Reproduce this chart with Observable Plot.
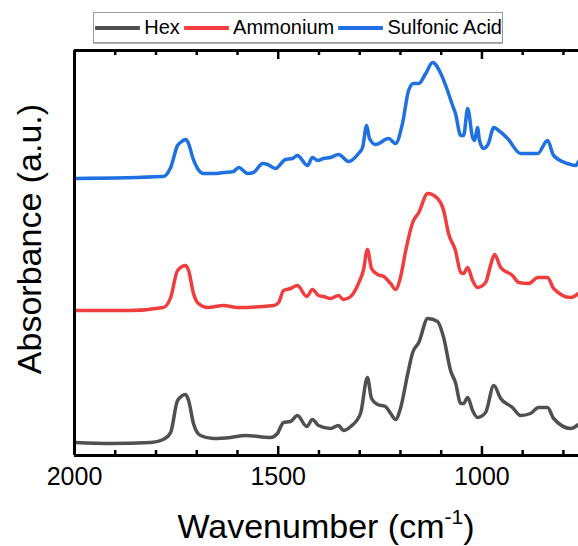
<!DOCTYPE html>
<html>
<head>
<meta charset="utf-8">
<script src="https://cdn.jsdelivr.net/npm/d3@7"></script>
<script src="https://cdn.jsdelivr.net/npm/@observablehq/plot@0.6"></script>
<style>
  html, body { margin: 0; padding: 0; background: #fff; }
  body { font-family: "Liberation Sans", Arial, sans-serif; }
  #wrap { width: 578px; height: 546px; position: relative; overflow: hidden; }
  #legendArea { position: relative; height: 46px; }
  #legend { position: absolute; left: 93px; top: 12px; width: 410px; height: 31px; box-sizing: border-box;
            border: 1px solid #9a9a9a; box-shadow: 0 1px 0 #b0b0b0; display: flex; align-items: center;
            gap: 4px; padding-left: 1px; font-size: 20px; color: #000; white-space: nowrap; }
  #legend .sw { display: inline-block; width: 46px; height: 4px; border-radius: 1px; }
</style>
</head>
<body>
<div id="wrap">
  <div id="legendArea"><div id="legend"></div></div>
  <div id="chart"></div>
</div>
<script>
// ---- Data ----
const seriesNames = ["Hex", "Ammonium", "Sulfonic Acid"];
const seriesColors = ["#505050", "#f03e3e", "#1f70e0"];

const hexWn  = [1998,1912,1813,1782,1764,1747,1727,1720,1708,1691,1659,1617,1580,1519,1502,1487,1470,1453,1430,1416,1401,1372,1352,1340,1322,1298,1281,1271,1256,1237,1224,1212,1200,1182,1170,1155,1133,1109,1094,1077,1065,1052,1045,1035,1023,1011,991,971,954,925,905,881,861,839,824,782,763];
const hexAbs = [0.13,0.12,0.13,0.16,0.23,0.55,0.61,0.55,0.32,0.20,0.17,0.18,0.20,0.18,0.22,0.33,0.34,0.40,0.29,0.36,0.30,0.27,0.30,0.25,0.29,0.42,0.78,0.57,0.51,0.49,0.42,0.36,0.47,0.82,1.03,1.13,1.37,1.34,1.18,0.85,0.73,0.52,0.52,0.58,0.45,0.38,0.43,0.70,0.57,0.48,0.40,0.42,0.48,0.48,0.37,0.27,0.31];

const ammWn  = [1998,1867,1782,1764,1747,1727,1720,1708,1696,1673,1634,1600,1511,1499,1487,1470,1453,1430,1416,1401,1389,1372,1352,1340,1322,1303,1291,1281,1271,1256,1241,1224,1212,1200,1187,1170,1155,1133,1109,1094,1082,1065,1052,1045,1035,1023,1011,991,979,969,954,925,910,885,863,839,824,782,763];
const ammAbs = [1.45,1.45,1.48,1.58,1.85,1.90,1.85,1.62,1.52,1.48,1.50,1.48,1.50,1.53,1.65,1.67,1.70,1.59,1.66,1.60,1.59,1.57,1.60,1.56,1.59,1.72,1.85,2.06,1.87,1.81,1.79,1.72,1.66,1.78,2.05,2.33,2.43,2.62,2.57,2.45,2.22,2.05,1.83,1.82,1.88,1.75,1.68,1.73,1.90,2.01,1.88,1.80,1.73,1.72,1.78,1.78,1.67,1.58,1.62];

const sulWn  = [1998,1782,1764,1747,1740,1727,1720,1710,1698,1683,1659,1634,1610,1597,1575,1561,1538,1526,1507,1482,1465,1453,1428,1416,1403,1389,1372,1352,1327,1303,1293,1283,1276,1261,1229,1212,1195,1180,1168,1155,1138,1121,1101,1089,1072,1065,1052,1045,1035,1023,1018,1011,1006,996,984,971,959,937,905,881,863,839,824,790,770,763];
const sulAbs = [2.77,2.79,2.88,3.10,3.13,3.16,3.12,2.98,2.87,2.82,2.82,2.83,2.84,2.88,2.82,2.83,2.92,2.91,2.87,2.96,2.97,3.00,2.90,2.98,2.95,2.97,2.98,3.01,2.94,3.02,3.08,3.30,3.17,3.11,3.17,3.12,3.32,3.65,3.72,3.72,3.82,3.93,3.82,3.70,3.50,3.42,3.20,3.20,3.47,3.18,3.15,3.28,3.15,3.07,3.12,3.28,3.25,3.17,3.02,3.02,3.02,3.15,3.00,2.92,2.90,2.94];

const xDomain = [2000, 763];
const yDomain = [0, 4.05];
const majorTicks = [2000, 1500, 1000];
const minorTicks = [1900, 1800, 1700, 1600, 1400, 1300, 1200, 1100, 900, 800];

// ---- Build table ----
const wnLists = [hexWn, ammWn, sulWn];
const absLists = [hexAbs, ammAbs, sulAbs];
const rows = [];
seriesNames.forEach((name, i) => {
  wnLists[i].forEach((w, j) => rows.push({series: name, wn: w, abs: absLists[i][j]}));
});

// ---- Legend ----
const legend = document.getElementById("legend");
seriesNames.forEach((name, i) => {
  const sw = document.createElement("span");
  sw.className = "sw";
  sw.style.background = seriesColors[i];
  const t = document.createElement("span");
  t.textContent = name;
  legend.appendChild(sw);
  legend.appendChild(t);
});

// ---- Plot ----
const W = 578, H = 500, mT = 4, mB = 91, mL = 74, mR = 0;
const innerH = H - mT - mB;

const chart = Plot.plot({
  width: W,
  height: H,
  marginTop: mT,
  marginBottom: mB,
  marginLeft: mL,
  marginRight: mR,
  style: {fontFamily: '"Liberation Sans", Arial, sans-serif', background: "#fff", overflow: "visible"},
  x: {domain: xDomain, axis: null},
  y: {domain: yDomain, axis: null},
  color: {domain: seriesNames, range: seriesColors},
  marks: [
    Plot.line(rows, {x: "wn", y: "abs", z: "series", stroke: "series", strokeWidth: 3.5, curve: "monotone-x", strokeLinejoin: "round"}),
    // axis lines
    Plot.ruleX([xDomain[0]], {stroke: "#000", strokeWidth: 3}),
    Plot.ruleY([yDomain[0]], {stroke: "#000", strokeWidth: 3}),
    Plot.ruleY([yDomain[1]], {stroke: "#000", strokeWidth: 3}),
    // inward ticks bottom
    Plot.tickX(majorTicks, {x: d => d, insetTop: innerH - 9, stroke: "#000", strokeWidth: 2.5}),
    Plot.tickX(minorTicks, {x: d => d, insetTop: innerH - 5, stroke: "#000", strokeWidth: 2.5}),
    // inward ticks top
    Plot.tickX(majorTicks, {x: d => d, insetBottom: innerH - 9, stroke: "#000", strokeWidth: 2.5}),
    Plot.tickX(minorTicks, {x: d => d, insetBottom: innerH - 5, stroke: "#000", strokeWidth: 2.5}),
    Plot.axisX({ticks: majorTicks, tickSize: 0, tickPadding: 12, tickFormat: d => String(d), fontSize: 25, label: null, color: "#000"})
  ]
});

document.getElementById("chart").appendChild(chart);

// ---- Axis titles ----
const svg = d3.select(chart);
svg.append("text")
  .attr("transform", `translate(41, ${239 - 46}) rotate(-90)`)
  .attr("text-anchor", "middle")
  .attr("font-size", 34)
  .attr("fill", "#000")
  .text("Absorbance (a.u.)");

const xt = svg.append("text")
  .attr("x", mL + (W - mL - mR) / 2)
  .attr("y", 538 - 46)
  .attr("text-anchor", "middle")
  .attr("font-size", 34)
  .attr("fill", "#000");
xt.append("tspan").text("Wavenumber (cm");
xt.append("tspan").attr("font-size", 21).attr("dy", -14).text("-1");
xt.append("tspan").attr("dy", 14).text(")");
</script>
</body>
</html>
